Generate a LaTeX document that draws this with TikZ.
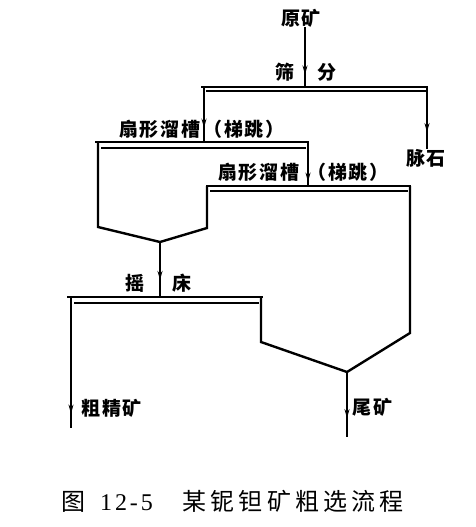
\documentclass[tikz,border=0pt]{standalone}
\usepackage{fontspec}
\newfontfamily\cjk[LetterSpace=10]{Noto Sans CJK SC}
\newfontfamily\cjkcap[LetterSpace=17]{Noto Sans CJK SC}
\newfontfamily\digitfont[LetterSpace=12]{Liberation Serif}
\usetikzlibrary{arrows.meta,decorations.markings}
\tikzset{
  %% text labels
  lbl/.style={font=\cjk\bfseries\fontsize{19}{20}\selectfont, inner sep=0pt},
  %% sieve / trough outlines
  trtop/.style={line width=2.8pt, line cap=rect},
  trin/.style={line width=1.3pt},
  trwall/.style={line width=2.4pt, line join=miter},
  %% flow line, arrow tip placed along it
  flowline/.style={line width=2pt, postaction={decorate},
    decoration={markings, mark=at position #1 with {\arrow{Stealth[length=9pt,width=5pt]}}}},
  flowline/.default=0.7,
}
\begin{document}
\begin{tikzpicture}[x=1pt, y=-1pt]
\useasboundingbox (0,0) rectangle (476,527);

%% Feed and sieve
\node[lbl] (ore) at (301,18) {原矿};
\coordinate (sv)  at (305,87);
\coordinate (svL) at (204,87);
\coordinate (svR) at (427,87);
\draw[trtop] (202,87) -- (427,87);
\draw[trin]  (206,91) -- (427,91);
\draw[flowline=0.79] (sv |- ore.south) -- (sv);
\node[lbl] (sieveA) at (285,72) {筛};
\node[lbl] (sieveB) at (327,72) {分};

%% Gangue
\node[lbl] (gangue) at (426,158) {脉石};
\draw[flowline=0.73] (svR) -- (svR |- gangue.north);

%% Trough 1
\coordinate (t1L)  at (98,142);
\coordinate (t1R)  at (308,142);
\coordinate (t1in) at (204,142);
\coordinate (t1V)  at (160,242);
\draw[trtop] (96,142) -- (t1R);
\draw[trin]  (101,148) -- (306,148);
\draw[trwall] (t1L) -- (98,227) -- (t1V) -- (207,228) -- (207,186);
\draw[flowline=0.74] (svL) -- (t1in);
\node[lbl, anchor=east] (troughA) at (201,129) {扇形溜槽};
\node[lbl, anchor=west] (stepA)   at (203,129) {（梯跳）};

%% Trough 2
\coordinate (t2in) at (308,186);
\coordinate (t2R)  at (410,186);
\coordinate (t2V)  at (347,372);
\draw[trtop] (207,186) -- (t2R);
\draw[trin]  (210,191) -- (408,191);
\draw[trwall] (t2R) -- (410,333) -- (t2V) -- (261,342) -- (261,297);
\draw[flowline=0.9] (t1R) -- (t2in);
\node[lbl, anchor=east] (troughB) at (300,172) {扇形溜槽};
\node[lbl, anchor=west] (stepB)   at (307,172) {（梯跳）};

%% Shaking table
\coordinate (t3in) at (160,297);
\coordinate (t3L)  at (71,297);
\draw[trtop] (68,297) -- (262,297);
\draw[trin]  (74,303) -- (259,303);
\draw[flowline=0.69] (t1V) -- (t3in);
\node[lbl] (tableA) at (135,283) {摇};
\node[lbl] (tableB) at (182,283) {床};

%% Products
\coordinate (concEnd) at (71,428);
\coordinate (tailEnd) at (347,437);
\draw[flowline=0.89] (t3L) -- (concEnd);
\draw[flowline=0.71] (t2V) -- (tailEnd);
\node[lbl, anchor=west] (conc) at (81,408) {粗精矿};
\node[lbl, anchor=west] (tail) at (352,407) {尾矿};

%% Caption
\node[anchor=west, inner sep=0pt, font=\cjkcap\fontsize{24}{24}\selectfont] (cap) at (61,501)
  {图\hspace{15pt}{\digitfont 12-5}\hspace{30pt}某铌钽矿粗选流程};

\end{tikzpicture}
\end{document}
